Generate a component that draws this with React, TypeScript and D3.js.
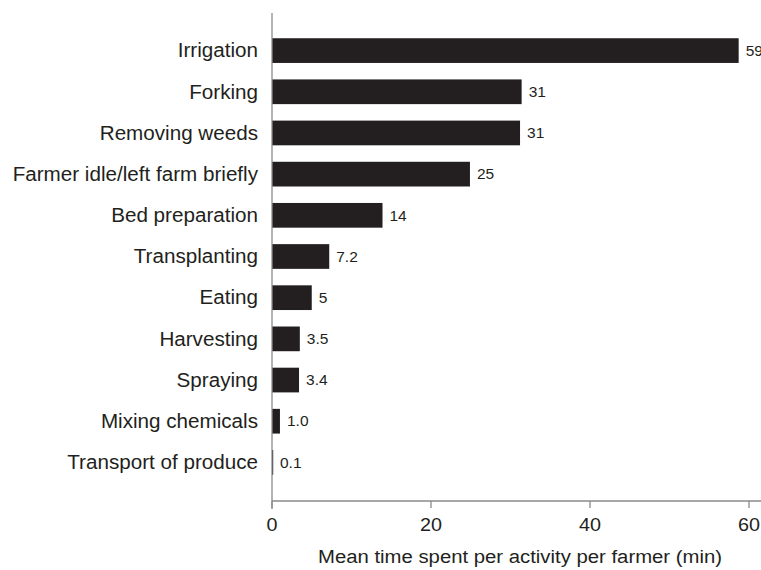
import React from 'react';
import * as d3 from 'd3';

// activities, top to bottom
const activities = [
  'Irrigation',
  'Forking',
  'Removing weeds',
  'Farmer idle/left farm briefly',
  'Bed preparation',
  'Transplanting',
  'Eating',
  'Harvesting',
  'Spraying',
  'Mixing chemicals',
  'Transport of produce',
];
const minutes = [58.7, 31.4, 31.2, 24.9, 13.9, 7.2, 5.0, 3.5, 3.4, 1.0, 0.1];
const valueLabels = ['59', '31', '31', '25', '14', '7.2', '5', '3.5', '3.4', '1.0', '0.1'];
const xTicks = [0, 20, 40, 60];
const xTitle = 'Mean time spent per activity per farmer (min)';

const W = 761;
const H = 570;
const INK = '#231f20';
const AXIS = '#8a8a8a';
const FONT = 'Liberation Sans, Arial, Helvetica, sans-serif';
const STRETCH = 1.07; // the original type is a bit wider than Arial

const Label = ({ x, y, size, anchor, children }: any) => (
  <g transform={`translate(${x},${y}) scale(${STRETCH},1)`}>
    <text fontSize={size} textAnchor={anchor} fill={INK} fontFamily={FONT}>
      {children}
    </text>
  </g>
);

export default function App() {
  const x = d3.scaleLinear().domain([0, 60]).range([272, 749]);
  const y = d3
    .scaleBand<string>()
    .domain(activities)
    .range([30, 483])
    .paddingInner(0.4)
    .paddingOuter(0.2);

  const axisY = 501;

  return (
    <svg
      width={W}
      height={H}
      style={{ position: 'absolute', left: 0, top: 0, background: '#fff' }}
    >
      {activities.map((a, i) => {
        const y0 = y(a) as number;
        const cy = y0 + y.bandwidth() / 2;
        return (
          <g key={a}>
            <rect
              x={x(0)}
              y={y0}
              width={Math.max(x(minutes[i]) - x(0), 1.2)}
              height={y.bandwidth()}
              fill={INK}
            />
            <Label x={x(0) - 14} y={cy + 6.8} size={19.3} anchor="end">
              {a}
            </Label>
            <Label x={Math.max(x(minutes[i]), x(0) + 1) + 7} y={cy + 5.2} size={14.5} anchor="start">
              {valueLabels[i]}
            </Label>
          </g>
        );
      })}

      {/* axes */}
      <line x1={x(0)} x2={x(0)} y1={13} y2={509} stroke={AXIS} strokeWidth={1.3} />
      <line x1={x(0)} x2={W} y1={axisY} y2={axisY} stroke={AXIS} strokeWidth={1.3} />
      {xTicks.map((t) => (
        <g key={t}>
          <line x1={x(t)} x2={x(t)} y1={axisY} y2={axisY + 7} stroke={AXIS} strokeWidth={1.3} />
          <Label x={x(t)} y={531} size={18.5} anchor="middle">
            {t}
          </Label>
        </g>
      ))}
      <Label x={520} y={563} size={19} anchor="middle">
        {xTitle}
      </Label>
    </svg>
  );
}
